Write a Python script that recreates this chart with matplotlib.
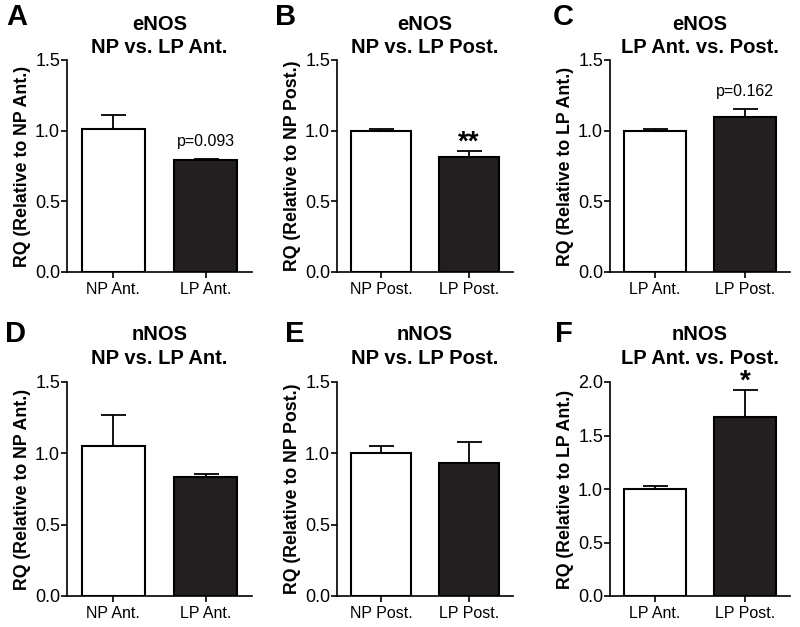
import numpy as np
import matplotlib
matplotlib.use("Agg")
import matplotlib.pyplot as plt

plt.rcParams['font.family'] = ['Liberation Sans', 'DejaVu Sans']

# data (mean, upper error)
letters = ["A", "B", "C", "D", "E", "F"]
genes = ["eNOS", "eNOS", "eNOS", "nNOS", "nNOS", "nNOS"]
comparisons = ["NP vs. LP Ant.", "NP vs. LP Post.", "LP Ant. vs. Post.",
               "NP vs. LP Ant.", "NP vs. LP Post.", "LP Ant. vs. Post."]
tick_labels = [["NP Ant.", "LP Ant."], ["NP Post.", "LP Post."], ["LP Ant.", "LP Post."],
               ["NP Ant.", "LP Ant."], ["NP Post.", "LP Post."], ["LP Ant.", "LP Post."]]
ylabels = ["RQ (Relative to NP Ant.)", "RQ (Relative to NP Post.)", "RQ (Relative to LP Ant.)",
           "RQ (Relative to NP Ant.)", "RQ (Relative to NP Post.)", "RQ (Relative to LP Ant.)"]
means = [[1.01, 0.79], [1.0, 0.815], [1.0, 1.10],
         [1.05, 0.835], [1.0, 0.935], [1.0, 1.675]]
errors = [[0.10, 0.01], [0.015, 0.04], [0.015, 0.055],
          [0.22, 0.02], [0.05, 0.145], [0.025, 0.25]]
ymaxes = [1.5, 1.5, 1.5, 1.5, 1.5, 2.0]
notes = ["p=0.093", "**", "p=0.162", "", "", "*"]

fig = plt.figure(figsize=(8, 6.27), dpi=100)

# axes boxes in pixels: left, right; rows: top, bottom
cols = [(67, 252), (337, 513), (610, 790)]
rows = [(60, 272), (382, 596)]
letter_pos = [(6, 3), (275, 3), (553, 3), (5, 320), (285, 320), (555, 320)]
title_pad = [5, 5, 5, 13, 13, 13]

dark = "#231f20"

for i in range(6):
    c = cols[i % 3]
    r = rows[i // 3]
    ax = fig.add_axes([c[0] / 800, 1 - r[1] / 627, (c[1] - c[0]) / 800, (r[1] - r[0]) / 627])
    x = np.arange(2)
    ax.bar(x, means[i], width=0.68, color=["white", dark], edgecolor="black",
           linewidth=1.5, zorder=2)
    ax.errorbar(x, means[i], yerr=[[0, 0], errors[i]], fmt="none", ecolor="black",
                elinewidth=1.3, capsize=9, capthick=1.3, zorder=1)
    ax.set_xlim(-0.5, 1.5)
    ax.set_ylim(0, ymaxes[i])
    yt = np.arange(0, ymaxes[i] + 0.01, 0.5)
    ax.set_yticks(yt)
    ax.set_yticklabels(["%.1f" % v for v in yt])
    ax.set_xticks(x)
    ax.set_xticklabels(tick_labels[i])
    ax.tick_params(axis="x", labelsize=11.5, width=1.2, length=4, colors="black", pad=3)
    ax.tick_params(axis="y", labelsize=13, width=1.2, length=4, colors="black", pad=1)
    for s in ["top", "right"]:
        ax.spines[s].set_visible(False)
    for s in ["left", "bottom"]:
        ax.spines[s].set_linewidth(1.2)
    ax.set_ylabel(ylabels[i], fontsize=12.8, fontweight="bold", labelpad=3)
    ax.set_title(genes[i] + "\n" + comparisons[i], fontsize=14.5, fontweight="bold",
                 pad=title_pad[i], linespacing=1.3)
    if notes[i]:
        top = means[i][1] + errors[i][1]
        if notes[i].startswith("p"):
            ax.annotate(notes[i], (1, top), xytext=(0, 12.5), textcoords="offset points",
                        ha="center", va="center", fontsize=11.5)
        else:
            ax.annotate(notes[i], (1, top), xytext=(0, 6), textcoords="offset points",
                        ha="center", va="center", fontsize=20, fontweight="bold")
    fig.text(letter_pos[i][0] / 800, 1 - letter_pos[i][1] / 627, letters[i],
             fontsize=21, fontweight="bold", ha="left", va="top")

fig.savefig("out.png", dpi=100)
